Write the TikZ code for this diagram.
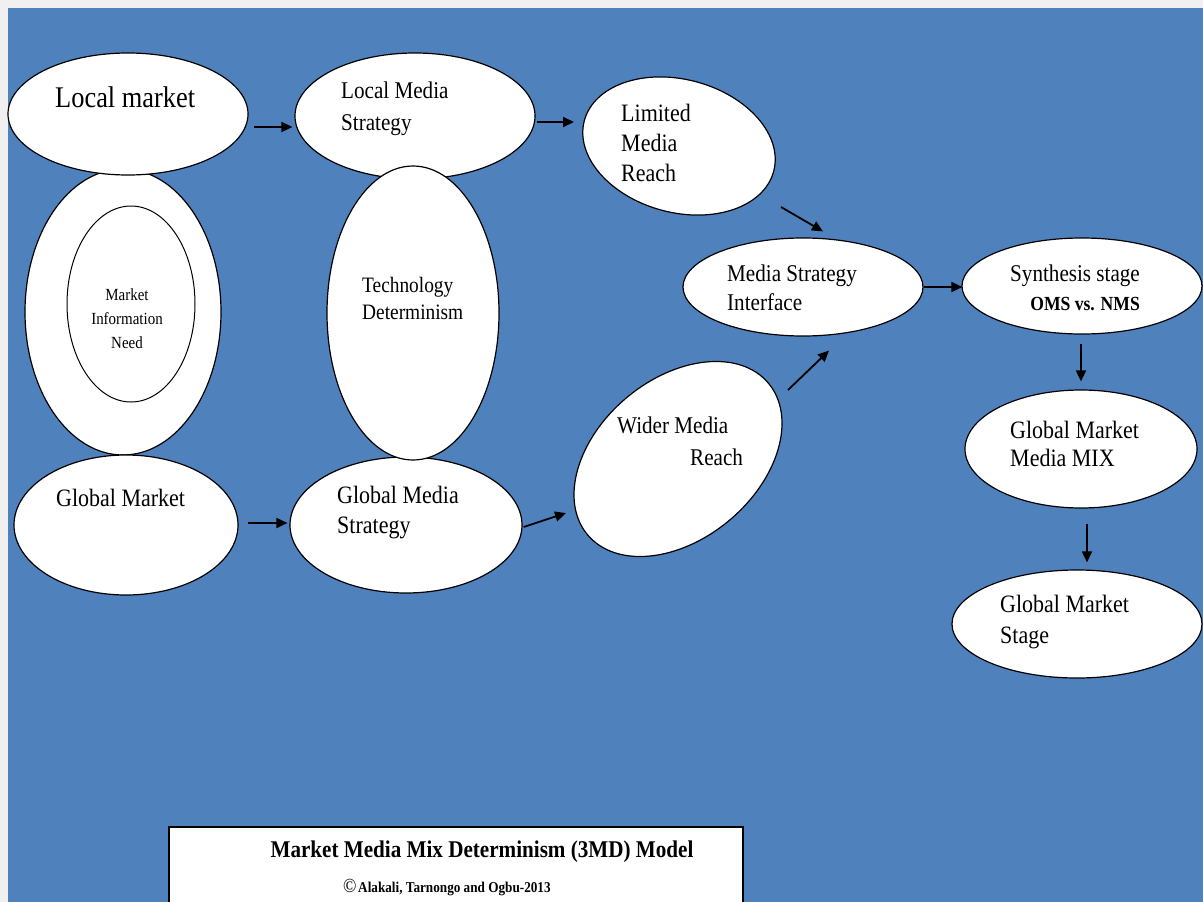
\documentclass[tikz,border=0pt]{standalone}
\usepackage{fontspec}
\setmainfont[FakeStretch=0.88]{Liberation Serif}
\usetikzlibrary{shapes.geometric,arrows.meta}
\definecolor{bgblue}{HTML}{4F81BD}
\definecolor{stripgray}{HTML}{F0F0F0}
\newcommand\fsz[2]{\fontsize{#1}{#2}\selectfont}
\begin{document}
\begin{tikzpicture}[x=1pt,y=-1pt,
  ell/.style={ellipse,draw=black,fill=white,line width=1.2pt,inner sep=0pt},
  txt/.style={inner sep=0pt,anchor=west,align=left,text=black},
  arr/.style={line width=1.8pt,-{Triangle[length=11pt,width=10pt]}}]
\useasboundingbox (0,0) rectangle (1203,902);
\fill[stripgray] (0,0) rectangle (1203,902);
\fill[bgblue] (8,8) rectangle (1203,902);

% left column
\node[ell,minimum width=196pt,minimum height=286pt] (outer) at (123,312) {};
\node[ell,line width=1pt,minimum width=128pt,minimum height=196pt] (inner) at (131,304) {};
\node[ell,minimum width=240pt,minimum height=122pt] (lm) at (128,114) {};
\node[ell,minimum width=224pt,minimum height=140pt] (gm) at (126,525) {};

% second column
\node[ell,minimum width=240pt,minimum height=126pt] (lms) at (415,116) {};
\node[ell,minimum width=232pt,minimum height=136pt] (gms) at (406,525) {};
\node[ell,minimum width=172pt,minimum height=294pt] (tech) at (413,313) {};

% third column
\node[ell,rotate=-15,minimum width=196pt,minimum height=133pt] (lim) at (679,146) {};
\node[ell,rotate=40,minimum width=236pt,minimum height=160pt] (wmr) at (678,459) {};
\node[ell,minimum width=240pt,minimum height=98pt] (msi) at (803,287) {};

% right column
\node[ell,minimum width=240pt,minimum height=96pt] (syn) at (1082,286) {};
\node[ell,minimum width=232pt,minimum height=118pt] (gmmm) at (1081,449) {};
\node[ell,minimum width=250pt,minimum height=108pt] (gmst) at (1077,624) {};

% texts
\node[txt,font=\fsz{30}{34}] (tlm) at (55,97) {Local market};
\node[inner sep=0pt,align=center,font=\fsz{17}{24}] (tmin) at (127,319) {Market\\Information\\Need};
\node[txt,font=\fsz{24}{32}] (tlms) at (341,109) {Local Media\\Strategy};
\node[txt,font=\fsz{22}{27}] (ttech) at (362,298) {Technology\\Determinism};
\node[txt,font=\fsz{25}{30}] (tlim) at (621,143) {Limited\\Media\\Reach};
\node[txt,font=\fsz{24}{29}] (tmsi) at (727,287.5) {Media Strategy\\Interface};
\node[txt,align=right,font=\fsz{24}{29}] (tsyn) at (1010,287.5) {Synthesis stage\\{\bfseries\fsz{20}{29}OMS vs. NMS}};
\node[txt,font=\fsz{24}{32}] (twmr) at (617,441) {Wider Media\\\hspace*{73pt}Reach};
\node[txt,font=\fsz{25}{30}] (tgm) at (56,498) {Global Market};
\node[txt,font=\fsz{25}{30}] (tgms) at (337,513) {Global Media\\Strategy};
\node[txt,font=\fsz{25}{28}] (tgmmm) at (1010,444) {Global Market\\Media MIX};
\node[txt,font=\fsz{25}{31}] (tgmst) at (1000,622.5) {Global Market\\Stage};

% arrows
\draw[arr] ([shift={(5,13)}]lm.east) -- ([shift={(-2,11)}]lms.west);
\draw[arr] ([shift={(1,6)}]lms.east) -- ([shift={(-105,-24)}]lim.center);
\draw[arr] ([shift={(102,61)}]lim.center) -- ([shift={(20,-6)}]msi.north);
\draw[arr] ([shift={(110,-69)}]wmr.center) -- ([shift={(26,14)}]msi.south);
\draw[arr] ([shift={(9,-2)}]gm.east) -- ([shift={(-2,-2)}]gms.west);
\draw[arr] ([shift={(1,2)}]gms.east) -- ([shift={(-112,54)}]wmr.center);
\draw[arr] (msi.east) -- ([shift={(1,1)}]syn.west);
\draw[arr] ([shift={(-1,9)}]syn.south) -- ([shift={(0,-8)}]gmmm.north);
\draw[arr] ([shift={(6,15)}]gmmm.south) -- ([shift={(10,-7)}]gmst.north);

% caption box
\draw[fill=white,draw=black,line width=1.5pt] (169,827) rectangle (743,910);
\node[inner sep=0pt,font=\bfseries\fsz{24}{28}] (title) at (482,852) {Market Media Mix Determinism (3MD) Model};
\node[txt] (copy) at (343,887) {{\fsz{20}{20}©}\,{\bfseries\fsz{15}{18}Alakali, Tarnongo and Ogbu-2013}};
\end{tikzpicture}
\end{document}
